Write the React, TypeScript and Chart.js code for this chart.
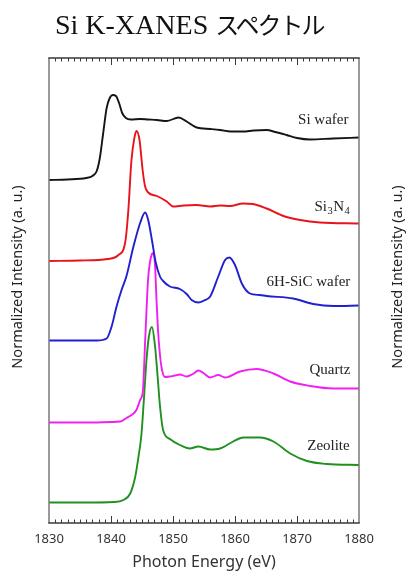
import React, { useEffect, useRef } from "react";
import { Chart, registerables } from "chart.js";

Chart.register(...registerables);

// Photon energy axis (eV)
const xMin = 1830;
const xMax = 1880;
const xTickStep = 10;

// Normalized intensity (a. u.), curves offset vertically
const yMin = 0;
const yMax = 9.3;

const siWaferE = [1830, 1833, 1836, 1837, 1837.7, 1838.2, 1838.7, 1839.3, 1839.8, 1840.3, 1840.8, 1841.3, 1841.8, 1842.4, 1843.2, 1844.7, 1846, 1847.4, 1849, 1850.9, 1852.2, 1853.8, 1856, 1857.6, 1859.3, 1861.3, 1863, 1865.1, 1866.5, 1868.3, 1870, 1872.1, 1875.8, 1880];
const siWaferI = [6.86, 6.87, 6.9, 6.94, 7.04, 7.3, 7.76, 8.3, 8.5, 8.56, 8.54, 8.4, 8.2, 8.1, 8.07, 8.08, 8.07, 8.06, 8.04, 8.11, 8.03, 7.91, 7.88, 7.86, 7.83, 7.83, 7.85, 7.86, 7.82, 7.76, 7.7, 7.67, 7.69, 7.71];

const si3n4E = [1830, 1835, 1839.5, 1841.2, 1842.3, 1842.8, 1843.3, 1843.8, 1844.1, 1844.6, 1845.1, 1845.5, 1846, 1847.4, 1849, 1850, 1851.7, 1853.8, 1856, 1857.6, 1859.2, 1861.3, 1862.9, 1865.1, 1867.8, 1870.5, 1873.7, 1880];
const si3n4I = [5.24, 5.25, 5.28, 5.36, 5.62, 6.26, 7.26, 7.72, 7.84, 7.66, 7.06, 6.73, 6.61, 6.54, 6.43, 6.33, 6.35, 6.36, 6.33, 6.35, 6.34, 6.39, 6.38, 6.29, 6.14, 6.06, 6.01, 5.99];

const sicE = [1830, 1835, 1837.7, 1839.3, 1840.1, 1840.9, 1841.7, 1842.5, 1843.6, 1844.7, 1845.5, 1846, 1846.6, 1847.2, 1847.9, 1848.4, 1849.5, 1851.1, 1852.2, 1853, 1854.1, 1855, 1856, 1857.3, 1858.4, 1859.1, 1860, 1861.1, 1862.4, 1864, 1865.1, 1869.4, 1872.6, 1875.9, 1880];
const sicI = [3.65, 3.65, 3.65, 3.69, 3.93, 4.33, 4.66, 4.94, 5.52, 6.0, 6.21, 6.06, 5.66, 5.22, 4.93, 4.84, 4.73, 4.68, 4.58, 4.46, 4.41, 4.45, 4.53, 4.93, 5.26, 5.31, 5.16, 4.79, 4.59, 4.56, 4.54, 4.49, 4.38, 4.34, 4.35];

const quartzE = [1830, 1836, 1840, 1841.5, 1842.5, 1843.3, 1844.1, 1844.7, 1845.16, 1845.32, 1845.48, 1845.73, 1845.97, 1846.29, 1846.61, 1846.82, 1847.1, 1847.34, 1847.58, 1847.9, 1848.23, 1848.71, 1849.5, 1850.3, 1851.1, 1852.2, 1853.2, 1854.1, 1854.9, 1856, 1857.3, 1858.4, 1860.8, 1863.5, 1866.2, 1868.9, 1872.1, 1875.9, 1880];
const quartzI = [2.01, 2.01, 2.02, 2.03, 2.1, 2.16, 2.26, 2.46, 2.66, 3.06, 3.56, 4.26, 4.86, 5.22, 5.38, 5.4, 5.16, 4.46, 3.86, 3.36, 3.06, 2.92, 2.93, 2.95, 2.97, 2.93, 2.98, 3.05, 3.0, 2.91, 2.96, 2.91, 3.03, 3.08, 2.99, 2.83, 2.74, 2.69, 2.69];

const zeoliteE = [1830, 1836, 1840.4, 1842, 1843.1, 1843.9, 1844.4, 1844.9, 1845.3, 1845.7, 1846.1, 1846.6, 1847.1, 1847.5, 1847.9, 1848.4, 1849.5, 1851.1, 1852.7, 1854.1, 1856, 1857.6, 1859.7, 1861.3, 1864, 1866.2, 1868.9, 1871.6, 1874.8, 1880];
const zeoliteI = [0.41, 0.41, 0.42, 0.46, 0.59, 0.92, 1.3, 1.76, 2.46, 3.22, 3.72, 3.92, 3.54, 2.96, 2.34, 1.86, 1.68, 1.56, 1.49, 1.53, 1.47, 1.49, 1.63, 1.71, 1.71, 1.63, 1.39, 1.24, 1.18, 1.16];

const seriesNames = ["Si wafer", "Si3N4", "6H-SiC wafer", "Quartz", "Zeolite"];
const seriesColors = ["#151515", "#e8141c", "#2020d0", "#f020f0", "#20901f"];
const labelE = [1878.3, 1878.6, 1878.6, 1878.6, 1878.5];
const labelI = [8.06, 6.32, 4.82, 3.06, 1.54];

const titleLatin = "Si K-XANES ";
const titleJapanese = "スペクトル";
const xTitle = "Photon Energy (eV)";
const yTitle = "Normalized Intensity (a. u.)";

const seriesE = [siWaferE, si3n4E, sicE, quartzE, zeoliteE];
const seriesI = [siWaferI, si3n4I, sicI, quartzI, zeoliteI];

const decorPlugin = {
  id: "decor",
  afterDatasetsDraw(chart: any) {
    const ctx = chart.ctx;
    const { left, right, top, bottom } = chart.chartArea;
    const xs = chart.scales.x;
    const ys = chart.scales.y;
    ctx.save();
    // frame
    ctx.lineWidth = 1.5;
    ctx.strokeStyle = "#7a7a7a";
    ctx.beginPath();
    ctx.moveTo(left, top);
    ctx.lineTo(left, bottom);
    ctx.moveTo(right, top);
    ctx.lineTo(right, bottom);
    ctx.stroke();
    ctx.strokeStyle = "#3a3a3a";
    ctx.beginPath();
    ctx.moveTo(left - 0.75, top);
    ctx.lineTo(right + 0.75, top);
    ctx.moveTo(left - 0.75, bottom);
    ctx.lineTo(right + 0.75, bottom);
    ctx.stroke();
    // inside ticks (minor every 1 eV, major every 10 eV)
    ctx.lineWidth = 1;
    ctx.strokeStyle = "#3a3a3a";
    ctx.beginPath();
    for (let e = xMin + 1; e < xMax; e++) {
      const px = Math.round(xs.getPixelForValue(e)) + 0.5;
      const len = e % xTickStep === 0 ? 7 : 3.5;
      ctx.moveTo(px, bottom);
      ctx.lineTo(px, bottom - len);
      ctx.moveTo(px, top);
      ctx.lineTo(px, top + len);
    }
    ctx.stroke();
    // y axis titles (both sides)
    ctx.fillStyle = "#222";
    ctx.font = '14.5px "Noto Sans", sans-serif';
    ctx.textAlign = "center";
    ctx.textBaseline = "middle";
    const cy = top + 219;
    ctx.save();
    ctx.translate(left - 31, cy);
    ctx.rotate(-Math.PI / 2);
    ctx.fillText(yTitle, 0, 0);
    ctx.restore();
    ctx.save();
    ctx.translate(right + 39, cy);
    ctx.rotate(-Math.PI / 2);
    ctx.fillText(yTitle, 0, 0);
    ctx.restore();
    // curve labels
    const big = '15px "Liberation Serif", serif';
    const small = '10.5px "Liberation Serif", serif';
    ctx.fillStyle = "#222";
    ctx.textBaseline = "middle";
    seriesNames.forEach((name, i) => {
      const px = xs.getPixelForValue(labelE[i]);
      const py = ys.getPixelForValue(labelI[i]);
      if (name === "Si3N4") {
        const parts = [
          { t: "Si", f: big, dy: 0 },
          { t: "3", f: small, dy: 4 },
          { t: "N", f: big, dy: 0 },
          { t: "4", f: small, dy: 4 },
        ];
        let w = 0;
        parts.forEach((p) => {
          ctx.font = p.f;
          w += ctx.measureText(p.t).width + 0.5;
        });
        let cx = px - w;
        ctx.textAlign = "left";
        parts.forEach((p) => {
          ctx.font = p.f;
          ctx.fillText(p.t, cx, py + p.dy);
          cx += ctx.measureText(p.t).width + 0.5;
        });
      } else {
        ctx.font = big;
        ctx.textAlign = "right";
        ctx.fillText(name, px, py);
      }
    });
    ctx.restore();
  },
};

export default function App() {
  const canvasRef = useRef<HTMLCanvasElement | null>(null);

  useEffect(() => {
    const canvas = canvasRef.current;
    if (!canvas) return;
    const datasets = seriesNames.map((name, i) => ({
      label: name,
      data: seriesE[i].map((e, j) => ({ x: e, y: seriesI[i][j] })),
      borderColor: seriesColors[i],
      backgroundColor: seriesColors[i],
      borderWidth: 1.9,
      pointRadius: 0,
      cubicInterpolationMode: "monotone" as const,
      fill: false,
    }));
    const chart = new Chart(canvas, {
      type: "line",
      data: { datasets },
      options: {
        responsive: false,
        animation: false,
        devicePixelRatio: 1,
        layout: { padding: { left: 49, right: 50, top: 58, bottom: 0 } },
        plugins: {
          legend: { display: false },
          tooltip: { enabled: false },
          title: { display: false },
        },
        scales: {
          x: {
            type: "linear",
            min: xMin,
            max: xMax,
            grid: { display: false, drawTicks: false },
            border: { display: false },
            ticks: {
              stepSize: xTickStep,
              padding: 8,
              color: "#333",
              font: { family: '"Noto Sans", sans-serif', size: 13 },
              callback: (v: any) => String(v),
            },
            title: {
              display: true,
              text: xTitle,
              color: "#333",
              font: { family: '"Noto Sans", sans-serif', size: 16 },
              padding: { top: 0, bottom: 12 },
            },
            afterFit: (scale: any) => {
              scale.height = 61;
            },
          },
          y: {
            type: "linear",
            min: yMin,
            max: yMax,
            display: false,
          },
        },
      },
      plugins: [decorPlugin],
    });
    return () => chart.destroy();
  }, []);

  return (
    <div style={{ position: "fixed", left: 0, top: 0, width: 409, height: 584, background: "#fff" }}>
      <canvas
        ref={canvasRef}
        width={409}
        height={584}
        style={{ position: "absolute", left: 0, top: 0, width: 409, height: 584, display: "block" }}
      />
      <div
        style={{
          position: "absolute",
          left: 55,
          top: 7,
          whiteSpace: "nowrap",
          lineHeight: "34px",
          color: "#111",
        }}
      >
        <span style={{ fontFamily: '"Liberation Serif", serif', fontSize: 28 }}>{titleLatin}</span>
        <span style={{ fontFamily: '"Noto Sans CJK JP", sans-serif', fontSize: 24, letterSpacing: -2 }}>
          {titleJapanese}
        </span>
      </div>
    </div>
  );
}
